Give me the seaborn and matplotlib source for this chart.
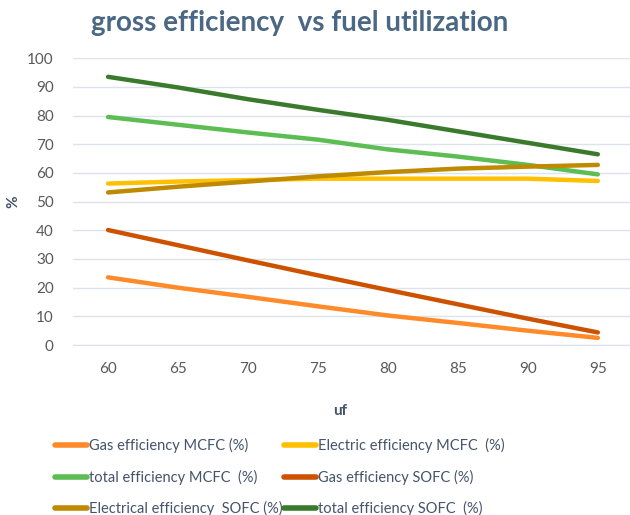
import seaborn as sns
import matplotlib.pyplot as plt
import pandas as pd

uf = [60, 65, 70, 75, 80, 85, 90, 95]
gas_mcfc = [23.6, 20.0, 16.8, 13.5, 10.3, 7.7, 5.0, 2.5]
elec_mcfc = [56.3, 57.0, 57.5, 58.0, 58.0, 58.0, 58.0, 57.2]
total_mcfc = [79.5, 76.8, 74.1, 71.6, 68.2, 65.7, 62.8, 59.5]
gas_sofc = [40.1, 34.8, 29.5, 24.3, 19.2, 14.2, 9.2, 4.4]
elec_sofc = [53.2, 55.2, 57.0, 58.8, 60.3, 61.5, 62.2, 62.8]
total_sofc = [93.5, 89.8, 85.7, 82.0, 78.5, 74.5, 70.5, 66.5]

series = {
    'Gas efficiency MCFC (%)': gas_mcfc,
    'Electric efficiency MCFC  (%)': elec_mcfc,
    'total efficiency MCFC  (%)': total_mcfc,
    'Gas efficiency SOFC (%)': gas_sofc,
    'Electrical efficiency  SOFC (%)': elec_sofc,
    'total efficiency SOFC  (%)': total_sofc,
}
colors = ['#FF8A2A', '#FFC000', '#5BBD52', '#CC5200', '#BF8A00', '#3A7A2C']

df = pd.DataFrame([(k, x, v) for k, vals in series.items() for x, v in zip(uf, vals)],
                  columns=['series', 'uf', 'value'])

sns.set_style('white')
plt.rcParams['font.family'] = ['Lato', 'DejaVu Sans']

fig = plt.figure(figsize=(6.3, 5.15), dpi=100)
ax = fig.add_axes([0.116, 0.330, 0.884, 0.557])
sns.lineplot(data=df, x='uf', y='value', hue='series', palette=colors,
             linewidth=3.2, ax=ax, legend=False)

ax.set_xlim(57.5, 97.3)
ax.set_ylim(0, 100)
ax.set_xticks(uf)
ax.set_xticks([57.5 + 5 * i for i in range(8)], minor=True)
ax.set_yticks(range(0, 101, 10))
ax.tick_params(axis='x', which='major', length=0, pad=12, labelsize=11, labelcolor='#595959')
ax.tick_params(axis='x', which='minor', length=5, color='#D9E1EA', width=1, direction='out')
ax.tick_params(axis='y', length=0, pad=14, labelsize=11, labelcolor='#595959')
ax.grid(axis='y', color='#DCE3EC', linewidth=1)
for s in ['left', 'right', 'top']:
    ax.spines[s].set_visible(False)
ax.spines['bottom'].set_color('#D9E1EA')

ax.set_xlabel('uf', fontsize=11, fontweight='bold', color='#44546A')
ax.set_ylabel('%', fontsize=11, fontweight='bold', color='#44546A')
ax.xaxis.set_label_coords(0.48, -0.205)
ax.yaxis.set_label_coords(-0.095, 0.5)

fig.text(0.475, 0.955, 'gross efficiency  vs fuel utilization', ha='center', va='center',
         fontsize=20, fontweight='bold', color='#4A6783')

handles = [plt.Line2D([], [], color=c, linewidth=4, solid_capstyle='round') for c in colors]
labels = list(series.keys())
order = [0, 2, 4, 1, 3, 5]
fig.legend([handles[i] for i in order], [labels[i] for i in order], ncol=2,
           loc='upper left', bbox_to_anchor=(0.078, 0.16), frameon=False,
           fontsize=10.5, labelcolor='#44546A', handlelength=2.2, handletextpad=0.15,
           columnspacing=0.05, labelspacing=1.12, borderaxespad=0)

fig.savefig('out.png', dpi=100)
